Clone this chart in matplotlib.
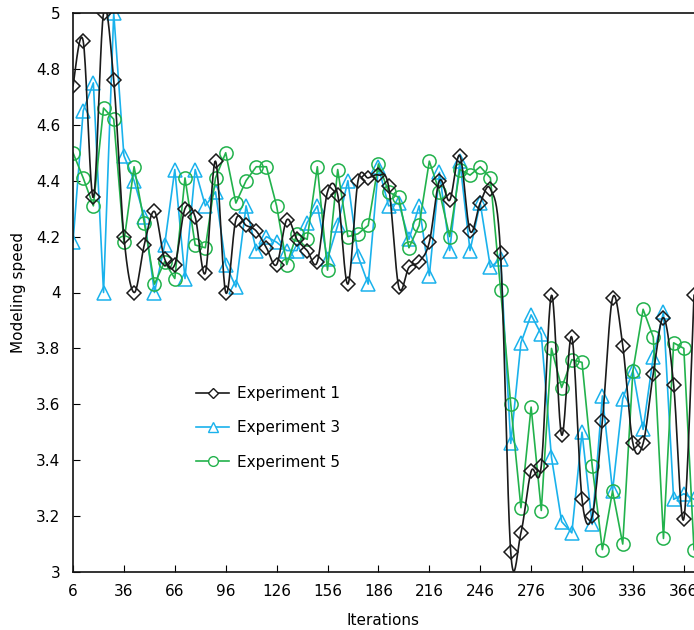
import numpy as np
import matplotlib
matplotlib.use("Agg")
import matplotlib.pyplot as plt

iterations = list(range(6, 373, 6))

exp1 = [4.74, 4.90, 4.34, 5.00, 4.76, 4.20, 4.00, 4.17, 4.29, 4.12, 4.10, 4.30,
        4.27, 4.07, 4.47, 4.00, 4.26, 4.24, 4.22, 4.16, 4.10, 4.26, 4.19,
        4.15, 4.11, 4.36, 4.35, 4.03, 4.40, 4.41, 4.42, 4.38,
        4.02, 4.09, 4.11, 4.18, 4.40, 4.33, 4.49, 4.22, 4.32, 4.37, 4.14,
        3.07, 3.14, 3.36, 3.38, 3.99, 3.49, 3.84, 3.26, 3.20, 3.54, 3.98,
        3.81, 3.46, 3.46, 3.71, 3.91, 3.67, 3.19, 3.99]

exp3 = [4.18, 4.65, 4.75, 4.00, 5.00, 4.49, 4.40, 4.27, 4.00, 4.17, 4.44, 4.05,
        4.44, 4.31, 4.36, 4.10, 4.02, 4.31, 4.15, 4.20, 4.18, 4.15, 4.15,
        4.25, 4.31, 4.12, 4.24, 4.40, 4.13, 4.03, 4.45, 4.31,
        4.32, 4.19, 4.31, 4.06, 4.43, 4.15, 4.47, 4.15, 4.32, 4.09, 4.12,
        3.46, 3.82, 3.92, 3.85, 3.41, 3.18, 3.14, 3.50, 3.17, 3.63, 3.29,
        3.62, 3.72, 3.51, 3.77, 3.93, 3.26, 3.28, 3.26]

exp5 = [4.50, 4.41, 4.31, 4.66, 4.62, 4.18, 4.45, 4.25, 4.03, 4.11, 4.05, 4.41,
        4.17, 4.16, 4.41, 4.50, 4.32, 4.40, 4.45, 4.45, 4.31, 4.10, 4.21,
        4.19, 4.45, 4.08, 4.44, 4.20, 4.21, 4.24, 4.46, 4.36,
        4.34, 4.16, 4.24, 4.47, 4.36, 4.20, 4.44, 4.42, 4.45, 4.41, 4.01,
        3.60, 3.23, 3.59, 3.22, 3.80, 3.66, 3.76, 3.75, 3.38, 3.08, 3.29,
        3.10, 3.72, 3.94, 3.84, 3.12, 3.82, 3.80, 3.08]

labels = ["Experiment 1", "Experiment 3", "Experiment 5"]
xticks = list(range(6, 367, 30))
yticks = [3, 3.2, 3.4, 3.6, 3.8, 4, 4.2, 4.4, 4.6, 4.8, 5]


def smooth(x, y, n=20):
    x = np.asarray(x, float)
    y = np.asarray(y, float)
    xs, ys = [], []
    N = len(x)
    for i in range(N - 1):
        p0 = np.array([x[max(i - 1, 0)], y[max(i - 1, 0)]])
        p1 = np.array([x[i], y[i]])
        p2 = np.array([x[i + 1], y[i + 1]])
        p3 = np.array([x[min(i + 2, N - 1)], y[min(i + 2, N - 1)]])
        c1 = p1 + (p2 - p0) / 6.0
        c2 = p2 - (p3 - p1) / 6.0
        t = np.linspace(0, 1, n, endpoint=(i == N - 2))[:, None]
        pts = ((1 - t) ** 3) * p1 + 3 * ((1 - t) ** 2) * t * c1 + 3 * (1 - t) * t ** 2 * c2 + t ** 3 * p2
        xs.extend(pts[:, 0])
        ys.extend(pts[:, 1])
    return np.array(xs), np.array(ys)


plt.rcParams['font.family'] = ['DejaVu Sans']
fig = plt.figure(figsize=(6.94, 6.30), dpi=100)
ax = fig.add_axes([73 / 694, 1 - 572 / 630, 1 - 73 / 694, (572 - 13) / 630])

c1, c3, c5 = "#1a1a1a", "#1ab2ec", "#22b24c"

sx, sy = smooth(iterations, exp1)
ax.plot(sx, sy, color=c1, lw=1.2, zorder=3)
ax.plot(iterations, exp1, ls='none', marker='D', ms=7.5, mfc='none', mec=c1, mew=1.1, zorder=3)
ax.plot(iterations, exp3, color=c3, lw=1.2, marker='^', ms=10, mfc='none', mec=c3, mew=1.1, zorder=2)
ax.plot(iterations, exp5, color=c5, lw=1.2, marker='o', ms=9.5, mfc='none', mec=c5, mew=1.1, zorder=2)

# legend proxies
h1, = ax.plot([], [], color=c1, lw=1.2, marker='D', ms=5, mfc='white', mec=c1)
h3, = ax.plot([], [], color=c3, lw=1.2, marker='^', ms=7, mfc='white', mec=c3)
h5, = ax.plot([], [], color=c5, lw=1.2, marker='o', ms=7, mfc='white', mec=c5)
leg = ax.legend([h1, h3, h5], labels, loc='upper left', bbox_to_anchor=(0.188, 0.343),
                frameon=False, fontsize=11, handlelength=2.2, handletextpad=0.5,
                labelspacing=1.25, borderaxespad=0)

ax.set_xlim(6, 372)
ax.set_ylim(3, 5)
ax.set_xticks(xticks)
ax.set_yticks(yticks)
ax.set_yticklabels([f"{v:g}" for v in yticks])
ax.tick_params(direction='in', length=5, width=0.8, labelsize=11, pad=9)
for s in ['left', 'bottom', 'top']:
    ax.spines[s].set_linewidth(1.2)
    ax.spines[s].set_color('#111111')
ax.spines['right'].set_visible(False)

ax.set_xlabel("Iterations", fontsize=11, labelpad=10)
ax.set_ylabel("Modeling speed", fontsize=11, labelpad=7)

fig.savefig("out.png", dpi=100)
